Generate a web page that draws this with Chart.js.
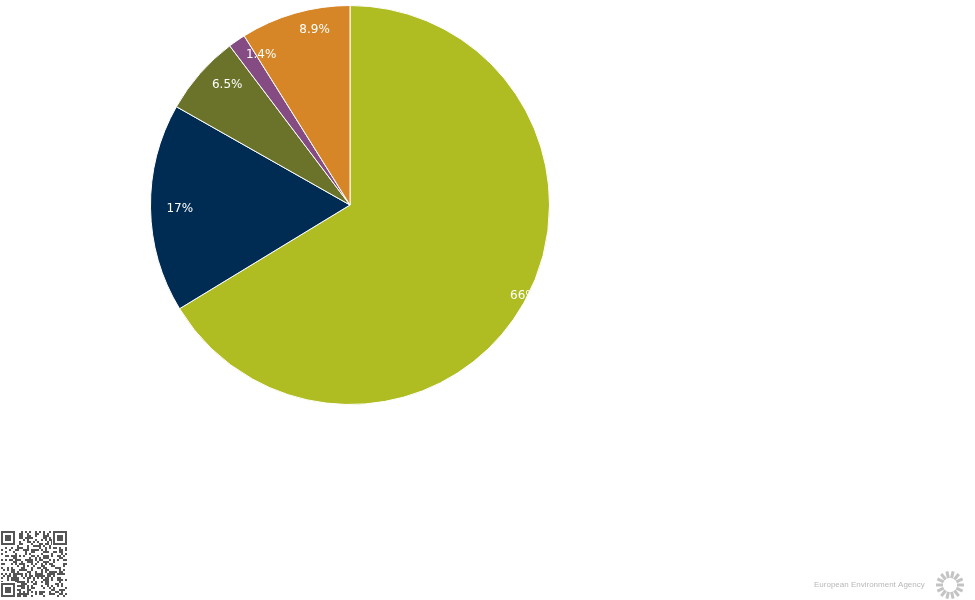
<!DOCTYPE html>
<html>
<head>
<meta charset="utf-8">
<script src="https://cdn.jsdelivr.net/npm/chart.js@4/dist/chart.umd.min.js"></script>
<style>
  html, body { margin: 0; padding: 0; background: #fff; }
  body { width: 975px; height: 600px; position: relative; overflow: hidden; }
  #wrap { position: absolute; left: 0; top: 0; width: 700px; height: 410px; }
  #qr { position: absolute; left: 1px; top: 531px; }
  #logo { position: absolute; left: 800px; top: 566px; }
</style>
</head>
<body>
<div id="wrap"><canvas id="myChart"></canvas></div>
<canvas id="qr" width="67" height="67"></canvas>
<canvas id="logo" width="175" height="34"></canvas>
<script>
// slice shares in percent, clockwise from the top
const labels = ['Slice A', 'Slice B', 'Slice C', 'Slice D', 'Slice E'];
const shares = [66.3, 16.9, 6.5, 1.4, 8.9];
const colors = ['#afbc22', '#002c54', '#6b732a', '#844c82', '#d68627'];

const sliceLabels = {
  id: 'sliceLabels',
  afterDatasetsDraw(chart) {
    const ctx = chart.ctx;
    const arcs = chart.getDatasetMeta(0).data;
    ctx.save();
    ctx.font = '12px "DejaVu Sans"';
    ctx.fillStyle = '#ffffff';
    ctx.textAlign = 'left';
    ctx.textBaseline = 'middle';
    arcs.forEach((arc, i) => {
      const p = arc.getProps(['x', 'y', 'startAngle', 'endAngle', 'outerRadius'], true);
      const mid = (p.startAngle + p.endAngle) / 2;
      const r = p.outerRadius * 0.92;
      const txt = Number(shares[i].toPrecision(2)) + '%';
      ctx.fillText(txt, p.x + Math.cos(mid) * r, p.y + Math.sin(mid) * r + 1);
    });
    ctx.restore();
  }
};

const generateChart = () => {
  var ctx = document.getElementById('myChart').getContext('2d');
  return new Chart(ctx, {
    type: 'pie',
    data: {
      labels: labels,
      datasets: [{
        data: shares,
        backgroundColor: colors,
        borderColor: '#ffffff',
        borderWidth: 1
      }]
    },
    options: {
      responsive: true,
      maintainAspectRatio: false,
      animation: false,
      layout: { padding: 5 },
      plugins: { legend: { display: false }, tooltip: { enabled: false } }
    },
    plugins: [sliceLabels]
  });
};

// small decorative qr-like block (finder squares + hashed fill)
const drawQr = () => {
  const c = document.getElementById('qr').getContext('2d');
  const n = 33, s = 2;
  c.fillStyle = '#fff';
  c.fillRect(0, 0, 67, 67);
  c.fillStyle = '#555';
  for (let y = 0; y < n; y++) {
    for (let x = 0; x < n; x++) {
      const h = ((x * 73856093) ^ (y * 19349663) ^ (x * y * 83492791)) >>> 0;
      if (h % 7 < 3) c.fillRect(x * s, y * s, s, s);
    }
  }
  const finder = (fx, fy) => {
    c.fillStyle = '#555'; c.fillRect(fx, fy, 14, 14);
    c.fillStyle = '#fff'; c.fillRect(fx + 2, fy + 2, 10, 10);
    c.fillStyle = '#555'; c.fillRect(fx + 4, fy + 4, 6, 6);
  };
  c.fillStyle = '#fff';
  c.fillRect(0, 0, 16, 16); c.fillRect(51, 0, 16, 16); c.fillRect(0, 51, 16, 16);
  finder(0, 0); finder(52, 0); finder(0, 52);
};

const drawLogo = () => {
  const c = document.getElementById('logo').getContext('2d');
  c.fillStyle = '#b8b8b8';
  c.font = '8px "Liberation Sans"';
  c.textBaseline = 'middle';
  c.fillText('European Environment Agency', 14, 19);
  const cx = 150, cy = 19;
  c.strokeStyle = '#c4c4c4';
  c.lineWidth = 3;
  for (let i = 0; i < 14; i++) {
    const a = i / 14 * Math.PI * 2;
    c.beginPath();
    c.moveTo(cx + Math.cos(a) * 7, cy + Math.sin(a) * 7);
    c.lineTo(cx + Math.cos(a) * 14, cy + Math.sin(a) * 14);
    c.stroke();
  }
  c.fillStyle = '#fff';
  c.beginPath(); c.arc(cx, cy, 6, 0, Math.PI * 2); c.fill();
};

generateChart();
drawQr();
drawLogo();
</script>
</body>
</html>
